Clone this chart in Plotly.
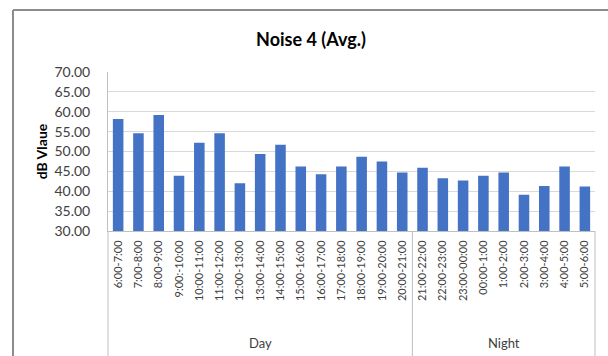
import plotly.graph_objects as go

# Hourly average noise levels, day block followed by night block
periods = ["6:00-7:00", "7:00-8:00", "8:00-9:00", "9:00:-10:00", "10:00-11:00",
           "11:00-12:00", "12:00-13:00", "13:00-14:00", "14:00-15:00", "15:00-16:00",
           "16:00-17:00", "17:00-18:00", "18:00-19:00", "19:00-20:00", "20:00-21:00",
           "21:00-22:00", "22:00-23:00", "23:00-00:00", "00:00-1:00", "1:00-2:00",
           "2:00-3:00", "3:00-4:00", "4:00-5:00", "5:00-6:00"]
db_values = [58.2, 54.6, 59.2, 43.9, 52.2, 54.6, 42.0, 49.4, 51.7, 46.2,
             44.3, 46.2, 48.7, 47.5, 44.7, 45.9, 43.3, 42.7, 43.9, 44.7,
             39.1, 41.3, 46.2, 41.2]
groups = ["Day", "Night"]
group_sizes = [15, 9]

FONT = "Lato"
W, H = 608, 356
ML, MR, MT, MB = 108, 13, 72, 125
PW, PH = W - ML - MR, H - MT - MB


def px_x(px):
    """Pixel column -> paper x."""
    return (px - ML) / PW


def px_y(py):
    """Pixel row (from top) -> paper y."""
    return (H - MB - py) / PH


fig = go.Figure(go.Bar(
    x=periods, y=db_values,
    marker=dict(color="#4472C4", line=dict(width=0)),
    width=0.52,
))

n = len(periods)
shapes = []
# chart frame (top and left edges)
frame = dict(color="#8c8c8c", width=2)
shapes.append(dict(type="line", xref="paper", yref="paper",
                   x0=px_x(13), x1=px_x(W), y0=px_y(10), y1=px_y(10), line=frame))
shapes.append(dict(type="line", xref="paper", yref="paper",
                   x0=px_x(13), x1=px_x(13), y0=px_y(H), y1=px_y(10), line=frame))

# group dividers under the category axis
edges = [0]
for s in group_sizes:
    edges.append(edges[-1] + s)
for e in edges:
    shapes.append(dict(type="line", xref="paper", yref="paper",
                       x0=e / n, x1=e / n, y0=0, y1=px_y(H),
                       line=dict(color="#bfbfbf", width=1)))

annotations = []
for g, a, b in zip(groups, edges[:-1], edges[1:]):
    annotations.append(dict(text=g, xref="paper", yref="paper",
                            x=(a + b) / 2 / n, y=px_y(343),
                            showarrow=False, xanchor="center", yanchor="middle",
                            font=dict(family=FONT, size=13, color="#404040")))

fig.update_layout(
    width=W, height=H,
    margin=dict(l=ML, r=MR, t=MT, b=MB),
    paper_bgcolor="white", plot_bgcolor="white",
    title=dict(text="<b>Noise 4 (Avg.)</b>", x=311 / W, xanchor="center",
               y=1 - 40 / H, yanchor="middle", yref="container",
               font=dict(family=FONT, size=18, color="black")),
    showlegend=False,
    shapes=shapes,
    annotations=annotations,
    bargap=0.48,
)
fig.update_xaxes(
    type="category", tickangle=-90,
    tickfont=dict(family=FONT, size=11, color="#404040"),
    showline=True, linecolor="#bfbfbf", linewidth=1,
    showgrid=False, ticks="", ticklabelstandoff=4,
)
fig.update_yaxes(
    range=[30, 70], dtick=5, tickformat=".2f",
    tickfont=dict(family=FONT, size=14, color="#404040"),
    showgrid=True, gridcolor="#d9d9d9", gridwidth=1,
    showline=True, linecolor="#bfbfbf", linewidth=1,
    ticks="", ticklabelstandoff=14, zeroline=False,
    title=dict(text="<b>dB Vlaue</b>", standoff=3,
               font=dict(family=FONT, size=14, color="black")),
)

fig.write_html("out.html")
